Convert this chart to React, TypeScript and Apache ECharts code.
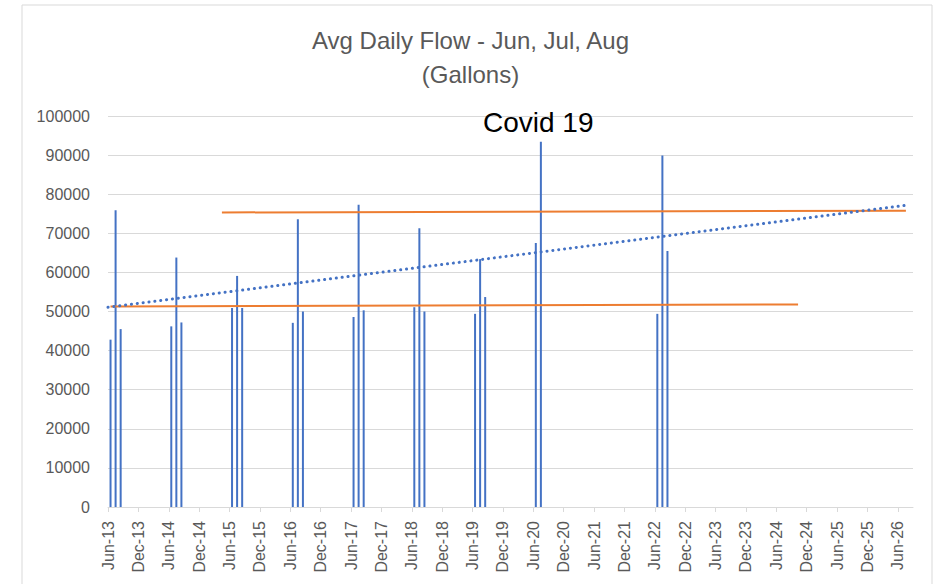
import React, { useEffect, useRef } from "react";
import * as echarts from "echarts";

// Data
const years = [2013, 2014, 2015, 2016, 2017, 2018, 2019, 2020, 2021, 2022];
const junFlow = [42800, 46200, 50900, 47100, 48600, 51100, 49400, 67500, null, 49400];
const julFlow = [75900, 63800, 59100, 73600, 77300, 71300, 63400, 93400, null, 89900];
const augFlow = [45500, 47200, 50900, 50000, 50300, 50000, 53700, null, null, 65500];

// Month offsets from Jun-2013 for the trend / reference lines
const trendX = [0, 158];
const trendY = [51100, 77220];
const lowLineX = [0.5, 136.3];
const lowLineY = [51300, 51800];
const highLineX = [22.5, 157.6];
const highLineY = [75330, 75770];

const tickLabels = [
  "Jun-13", "Dec-13", "Jun-14", "Dec-14", "Jun-15", "Dec-15", "Jun-16", "Dec-16",
  "Jun-17", "Dec-17", "Jun-18", "Dec-18", "Jun-19", "Dec-19", "Jun-20", "Dec-20",
  "Jun-21", "Dec-21", "Jun-22", "Dec-22", "Jun-23", "Dec-23", "Jun-24", "Dec-24",
  "Jun-25", "Dec-25", "Jun-26",
];

const annotation = "Covid 19";

export default function App() {
  const ref = useRef<HTMLDivElement>(null);

  useEffect(() => {
    if (!ref.current) return;
    const chart = echarts.init(ref.current, undefined, { renderer: "svg" });

    const barData: [number, number][] = [];
    years.forEach((y, i) => {
      const base = (y - 2013) * 12;
      [junFlow[i], julFlow[i], augFlow[i]].forEach((v, k) => {
        if (v != null) barData.push([base + k + 0.5, v]);
      });
    });

    const font = "Liberation Sans, Arial, sans-serif";

    chart.setOption({
      animation: false,
      backgroundColor: "#ffffff",
      title: [
        {
          text: "Avg Daily Flow - Jun, Jul, Aug\n(Gallons)",
          left: "center",
          top: 18,
          textStyle: {
            fontFamily: font,
            fontSize: 24,
            fontWeight: "normal",
            color: "#595959",
            lineHeight: 34,
          },
        },
        {
          text: annotation,
          left: 478,
          top: 103,
          textStyle: {
            fontFamily: font,
            fontSize: 28,
            fontWeight: "normal",
            color: "#000000",
          },
        },
      ],
      grid: { left: 108, right: 28, top: 116, bottom: 77, containLabel: false },
      xAxis: {
        type: "value",
        min: 0,
        max: 159,
        interval: 6,
        axisLine: { show: true, lineStyle: { color: "#d9d9d9", width: 1 } },
        axisTick: { show: true, length: 5, lineStyle: { color: "#d9d9d9" } },
        splitLine: { show: false },
        axisLabel: {
          rotate: 90,
          margin: 14,
          fontFamily: font,
          fontSize: 16,
          color: "#595959",
          showMaxLabel: false,
          formatter: (v: number) => tickLabels[Math.round(v / 6)] ?? "",
        },
      },
      yAxis: {
        type: "value",
        min: 0,
        max: 100000,
        interval: 10000,
        axisLine: { show: false },
        axisTick: { show: false },
        splitLine: { lineStyle: { color: "#d9d9d9", width: 1 } },
        axisLabel: {
          margin: 18,
          fontFamily: font,
          fontSize: 16,
          color: "#595959",
          formatter: (v: number) => String(v),
        },
      },
      series: [
        {
          type: "bar",
          name: "Avg Daily Flow",
          data: barData,
          barWidth: 2,
          itemStyle: { color: "#4472C4" },
          z: 2,
        },
        {
          type: "line",
          name: "Low",
          data: lowLineX.map((x, i) => [x, lowLineY[i]]),
          showSymbol: false,
          lineStyle: { color: "#ED7D31", width: 2 },
          z: 3,
        },
        {
          type: "line",
          name: "High",
          data: highLineX.map((x, i) => [x, highLineY[i]]),
          showSymbol: false,
          lineStyle: { color: "#ED7D31", width: 2 },
          z: 3,
        },
        {
          type: "line",
          name: "Trend",
          data: trendX.map((x, i) => [x, trendY[i]]),
          showSymbol: false,
          lineStyle: { color: "#4472C4", width: 3, type: [0.1, 5.8], cap: "round" },
          z: 4,
        },
      ],
      graphic: [
        {
          type: "rect",
          shape: { x: 22, y: 5, width: 910, height: 600 },
          style: { fill: "none", stroke: "#d9d9d9", lineWidth: 1 },
          silent: true,
        },
      ],
    });

    return () => chart.dispose();
  }, []);

  return (
    <div
      ref={ref}
      style={{ position: "absolute", left: 0, top: 0, width: 941, height: 584 }}
    />
  );
}
